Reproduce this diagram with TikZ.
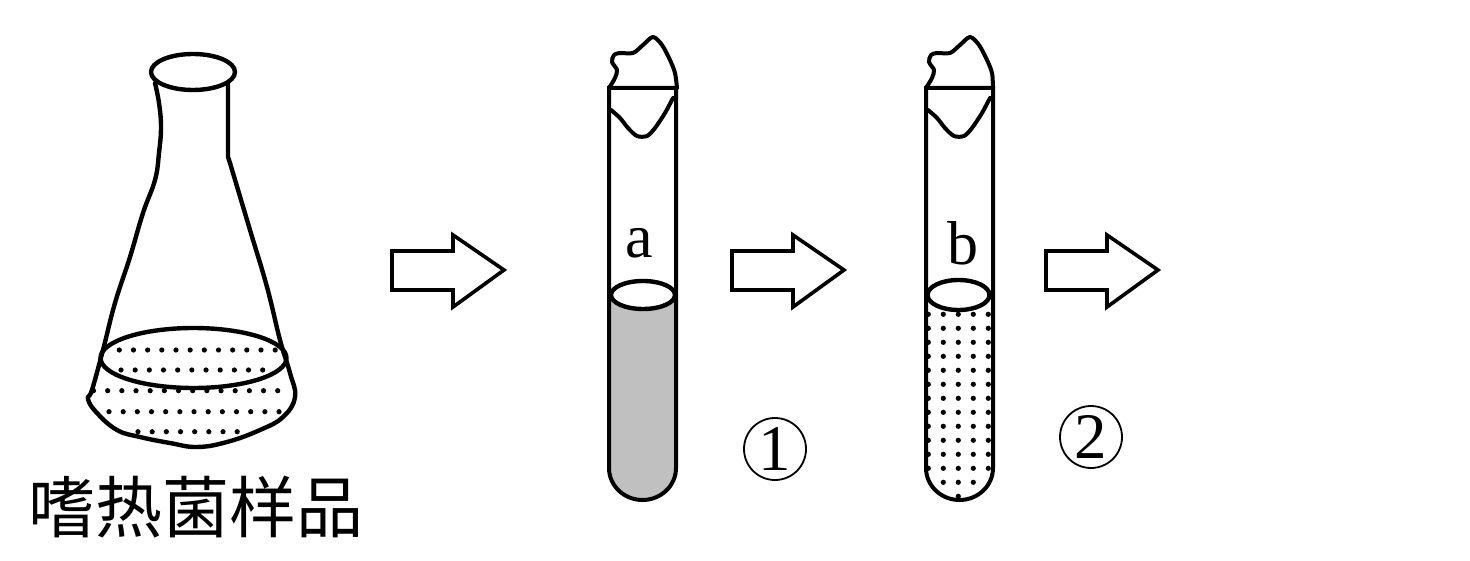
\documentclass[tikz,border=0pt]{standalone}
\usepackage{fontspec}
\setmainfont{Liberation Serif}
\newfontfamily\cjk{Noto Sans CJK SC}
\definecolor{liquid}{HTML}{C0C0C0}
\tikzset{
  ink/.style={draw=black,line width=4.4pt,line join=round,line cap=round},
  thin ink/.style={draw=black,line width=4pt,line join=miter},
  speck/.style={fill=black,draw=none},
  flowarrow/.style={draw=black,line width=3.6pt,line join=miter,fill=white},
  tubelabel/.style={font=\fontsize{62}{62}\selectfont,inner sep=0pt},
  stepmark/.style={circle,draw=black,line width=1.8pt,minimum size=62pt,inner sep=0pt,font=\fontsize{65}{65}\selectfont},
  caption/.style={font=\cjk\fontsize{67}{67}\selectfont,inner sep=0pt}
}
\newcommand{\dotrow}[4]{\foreach \k in {1,...,#3}{\fill[speck] ({#1+(\k-1)*#4},#2) circle (2.6pt);}}
\begin{document}
\begin{tikzpicture}[x=1pt,y=-1pt]
\useasboundingbox (0,0) rectangle (1470,561);
% flask dots
\dotrow{119.3}{350}{12}{14.17}
\dotrow{121}{370}{11}{14.17}
\dotrow{93.5}{390.7}{14}{14.17}
\dotrow{109}{411.7}{13}{14.17}
\dotrow{138}{431.7}{8}{14.17}
% flask
\draw[ink] (193,72) ellipse (42 and 18);
\draw[ink] plot[smooth,tension=0.7] coordinates {(155,83) (159,103) (161,127) (159,153) (155,180) (143,213) (130,257) (115,303) (103,350) (92,390) (88,399) (97,413) (117,430) (140,437) (170,443) (197,447) (227,442) (260,430) (283,417) (295,397) (290,373) (280,340) (267,287) (250,230) (230,163)};
\draw[ink] (228,83) -- (228,157) -- (230,163);
\draw[ink] (193.5,358) ellipse (93 and 30);
% tube a
\fill[liquid] (609,295) -- (677,295) -- (677,468) arc[start angle=0,end angle=180,x radius=34,y radius=32] -- cycle;
\fill[white] (643,295) ellipse (32 and 14);
\draw[ink] (643,295) ellipse (32 and 14);
\draw[thin ink,line cap=round] (609,88) -- (609,468) arc[start angle=180,end angle=0,x radius=33.5,y radius=32] -- (676,88) -- cycle;
\draw[ink,line width=4pt] plot[smooth,tension=0.5] coordinates {(609,88) (615,78) (617,70) (612,62) (614,55) (620,53) (633,53) (643,45) (653,37) (662,45) (670,60) (675,73) (677,88)};
\draw[ink,line width=4pt] plot[smooth,tension=0.5] coordinates {(611,110) (620,118) (628,128) (637,136) (647,136) (655,128) (665,113) (673,98)};
% tube b dots
\foreach \r in {0,...,11}{\dotrow{928.3}{314.3+14*\r}{5}{15}}
\dotrow{943.3}{482.3}{3}{15}
\dotrow{958.3}{496.3}{1}{15}
\draw[ink] (958.5,295) ellipse (31 and 15);
\draw[thin ink,line cap=round] (926,88) -- (926,468) arc[start angle=180,end angle=0,x radius=33.5,y radius=32] -- (993,88) -- cycle;
\draw[ink,line width=4pt] plot[smooth,tension=0.5] coordinates {(926,88) (932,78) (934,70) (929,62) (931,55) (937,53) (950,53) (960,45) (970,37) (979,45) (987,60) (992,73) (993,88)};
\draw[ink,line width=4pt] plot[smooth,tension=0.5] coordinates {(928,110) (937,118) (945,128) (954,136) (964,136) (972,128) (982,113) (990,98)};
% arrows
\foreach \dx in {0,340,654}{
  \draw[flowarrow,shift={(\dx,0)}] (392,251) -- (453,251) -- (453,235) -- (504,270) -- (453,307) -- (453,290) -- (392,290) -- cycle;
}
% labels
\node[tubelabel] (la) at (639,243) {a};
\node[tubelabel] (lb) at (963,243) {b};
\node[stepmark] (s1) at (775,449) {1};
\node[stepmark] (s2) at (1091,437) {2};
\node[caption] (cap) at (196,507) {嗜热菌样品};
\end{tikzpicture}
\end{document}
